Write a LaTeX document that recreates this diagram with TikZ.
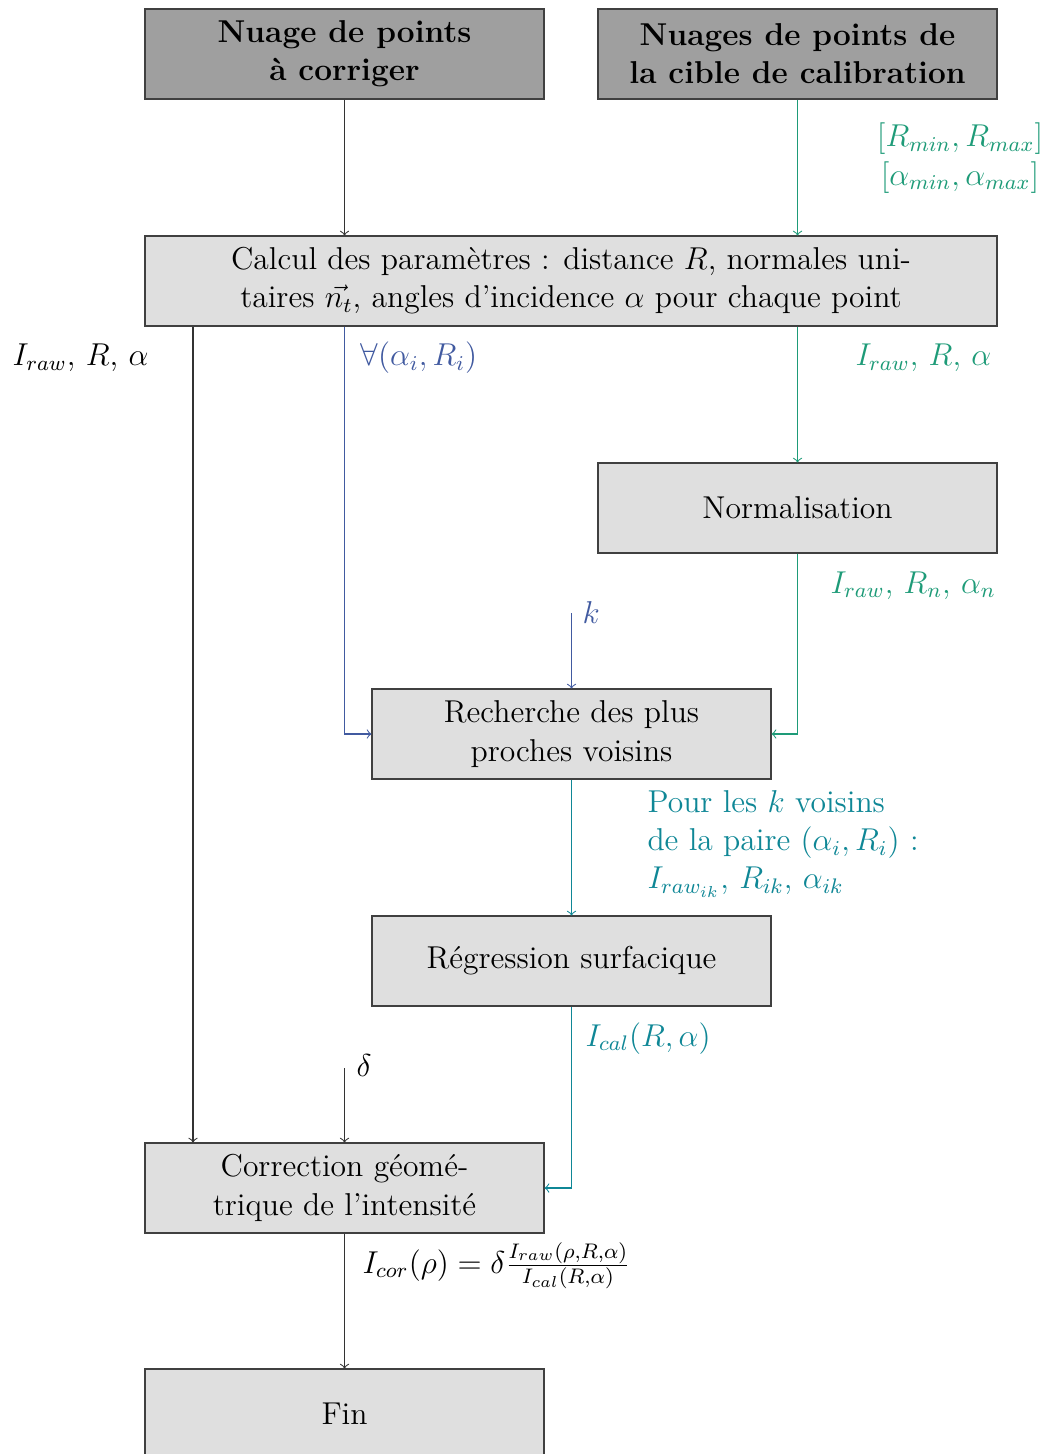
\documentclass[12pt,tikz,border=0pt]{standalone}
\usepackage{fontspec}
\definecolor{cgreen}{RGB}{30,155,120}
\definecolor{cblue}{RGB}{65,90,160}
\definecolor{cteal}{RGB}{15,135,150}
\newcommand\pxu{0.3795}
\begin{document}
\begin{tikzpicture}[x={(\pxu pt,0)}, y={(0,-\pxu pt)},
  box/.style={draw=black!75, fill=gray!25, minimum width={399*\pxu pt}, minimum height={90*\pxu pt}, align=center, inner sep=0pt},
  topbox/.style={box, fill=gray!75, font=\bfseries},
  flow/.style={->, draw=black!80},
  flowg/.style={->, draw=cgreen},
  flowb/.style={->, draw=cblue},
  flowt/.style={->, draw=cteal},
  lbl/.style={inner sep=0pt}]
\useasboundingbox (0,0) rectangle (1044,1454);
% boxes
\node[topbox] (A) at (344.5,54) {Nuage de points\\à corriger};
\node[topbox] (B) at (797.5,54) {Nuages de points de\\la cible de calibration};
\node[box, minimum width={852*\pxu pt}] (C) at (571,281) {Calcul des paramètres : distance $R$, normales uni-\\taires $\vec{n_t}$, angles d'incidence $\alpha$ pour chaque point};
\node[box] (N) at (797.5,508) {Normalisation};
\node[box] (R) at (571.5,734) {Recherche des plus\\proches voisins};
\node[box] (G) at (571.5,961) {Régression surfacique};
\node[box] (K) at (344.5,1188) {Correction géomé-\\trique de l'intensité};
\node[box] (F) at (344.5,1414) {Fin};
% free ends
\coordinate (lx) at (193,0);
\coordinate (kin) at (571.5,613);
\coordinate (din) at (344.5,1068);
% connectors
\draw[flow] (A) -- (A |- C.north);
\draw[flowg] (B) -- (B |- C.north);
\draw[flow] (C.south -| lx) -- (K.north -| lx);
\draw[flowb] (C.south -| A) |- (R.west);
\draw[flowg] (C.south -| N) -- (N.north);
\draw[flowg] (N.south) |- (R.east);
\draw[flowb] (kin) -- (R.north);
\draw[flowt] (R) -- (G);
\draw[flowt] (G.south) |- (K.east);
\draw[flow] (din) -- (K.north);
\draw[flow] (K) -- (F);
% labels
\node[lbl, text=cgreen, align=center] (lrange) at (960,158) {$[R_{min},R_{max}]$\\$[\alpha_{min},\alpha_{max}]$};
\node[lbl, anchor=base east] (lleft) at (149,366) {$I_{raw}$, $R$, $\alpha$};
\node[lbl, anchor=base west, text=cblue] (lforall) at (360,366) {$\forall(\alpha_i,R_i)$};
\node[lbl, anchor=base west, text=cgreen] (lright) at (855,366) {$I_{raw}$, $R$, $\alpha$};
\node[lbl, anchor=base west, text=cgreen] (lnorm) at (830,593) {$I_{raw}$, $R_n$, $\alpha_n$};
\node[lbl, anchor=base west, text=cblue] (lk) at (582,623) {$k$};
\node[lbl, anchor=north west, text=cteal, align=left] (lvois) at (647,790) {Pour les $k$ voisins\\de la paire $(\alpha_i,R_i)$ :\\$I_{raw_{ik}}$, $R_{ik}$, $\alpha_{ik}$};
\node[lbl, anchor=base west, text=cteal] (lcal) at (585,1046) {$I_{cal}(R,\alpha)$};
\node[lbl, anchor=base west] (ldelta) at (356,1076) {$\delta$};
\node[lbl, anchor=base west] (lcor) at (362,1273) {$I_{cor}(\rho)=\delta\frac{I_{raw}(\rho,R,\alpha)}{I_{cal}(R,\alpha)}$};
\end{tikzpicture}
\end{document}
